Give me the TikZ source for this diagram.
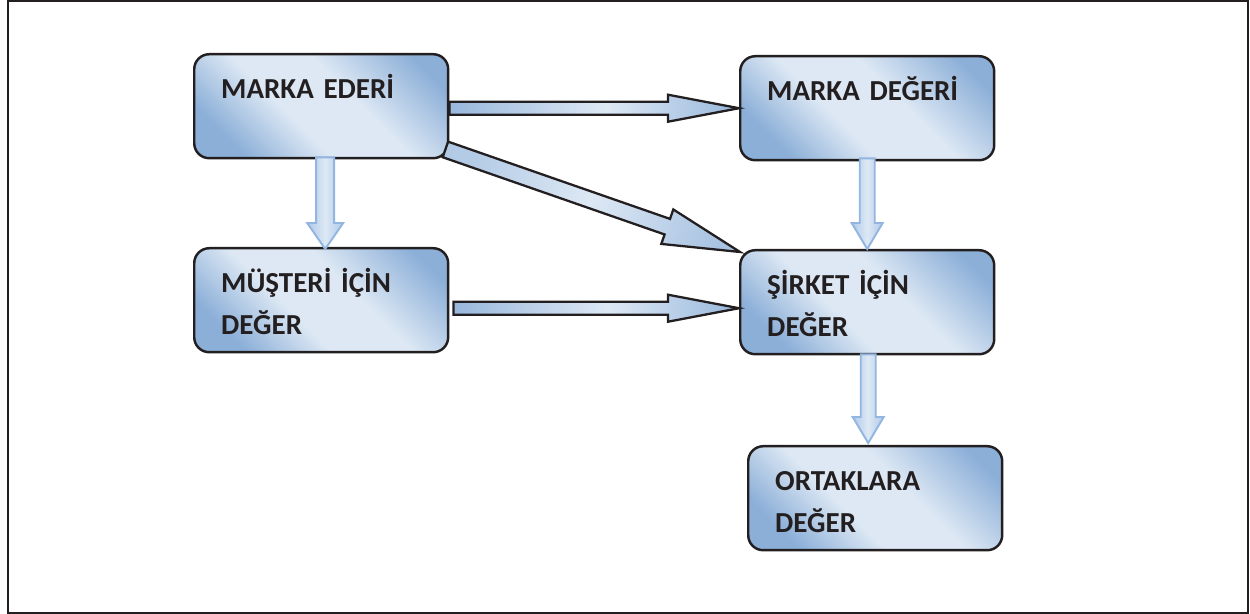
\documentclass[tikz,border=0pt]{standalone}
\usepackage{fontspec}
\setmainfont{Carlito}
\usepackage{tikz}
\usetikzlibrary{calc}
\usepackage{xcolor}
\definecolor{inkline}{RGB}{35,31,32}
\definecolor{boxdark}{RGB}{140,175,216}
\definecolor{boxlight}{RGB}{221,232,244}
\definecolor{downline}{RGB}{146,182,224}
\definecolor{downfill}{RGB}{176,201,233}
\pgfdeclarehorizontalshading{boxshade}{100bp}{color(0bp)=(boxdark); color(25bp)=(boxdark); color(42bp)=(boxlight); color(58bp)=(boxlight); color(78bp)=(boxdark); color(100bp)=(boxdark)}
\pgfdeclarehorizontalshading{flowshade}{100bp}{color(0bp)=(boxdark); color(25bp)=(boxdark!85!boxlight); color(52bp)=(boxlight); color(75bp)=(boxdark!85!boxlight); color(100bp)=(boxdark)}
\pgfdeclarehorizontalshading{slantshade}{100bp}{color(0bp)=(boxdark!60!boxlight); color(25bp)=(boxdark!50!boxlight); color(50bp)=(boxlight); color(75bp)=(boxdark!60!boxlight); color(100bp)=(boxdark)}
\pgfdeclarehorizontalshading{downshade}{100bp}{color(0bp)=(downfill); color(25bp)=(downfill); color(50bp)=(boxlight); color(75bp)=(downfill); color(100bp)=(downfill)}
\tikzset{
    kutu/.style={draw=inkline, line width=1.4pt, rounded corners=0.3cm, shading=boxshade, shading angle=45,
        anchor=north west, text width=4cm, inner xsep=0.54cm, inner ysep=0pt, text height=0.88cm, text depth=1.2cm,
        align=left, text=inkline, font=\fontsize{16.5}{23.8}\selectfont\bfseries},
    akis/.style={draw=inkline, line width=1.3pt, shading=flowshade},
    inis/.style={draw=downline, line width=1.1pt, shading=downshade}
}
\newcommand{\blockarrow}[6][]{%
    \coordinate (ba) at #2;
    \coordinate (ea) at #3;
    \coordinate (hb) at ($(ea)!#6!(ba)$);
    \draw[#1] ($(ba)!#4!90:(ea)$) -- ($(hb)!#4!90:(ea)$) -- ($(hb)!#5!90:(ea)$) -- (ea)
        -- ($(hb)!#5!-90:(ea)$) -- ($(hb)!#4!-90:(ea)$) -- ($(ba)!#4!-90:(ea)$) -- cycle;
}

\begin{document}
\begin{tikzpicture}[x=0.02cm, y=-0.02cm]
    \useasboundingbox (0,0) rectangle (1250,614);
    \draw[inkline, line width=1.5pt] (8,1) rectangle (1248,613);

    \node[kutu] (ederi) at (193,53) {MARKA EDERİ};
    \node[kutu] (degeri) at (739,55) {MARKA DEĞERİ};
    \node[kutu] (musteri) at (193,247) {MÜŞTERİ İÇİN\\DEĞER};
    \node[kutu] (sirket) at (739,249) {ŞİRKET İÇİN\\DEĞER};
    \node[kutu] (ortak) at (747,445) {ORTAKLARA\\DEĞER};

    \blockarrow[akis]{(ederi.east |- degeri.west)}{(degeri.west)}{0.13cm}{0.27cm}{1.42cm}
    \blockarrow[akis, shading=slantshade, shading angle=-20]{($(ederi.south east)+(-4,-10)$)}{($(sirket.north west)+(1,3)$)}{0.165cm}{0.365cm}{1.54cm}
    \blockarrow[akis]{($(musteri.east)+(4,8)$)}{($(sirket.west)+(0,6)$)}{0.13cm}{0.27cm}{1.42cm}

    \blockarrow[inis]{($(ederi.south)+(4,-2)$)}{($(musteri.north)+(4,2)$)}{0.18cm}{0.36cm}{0.52cm}
    \blockarrow[inis]{($(degeri.south)+(0,-3)$)}{(sirket.north)}{0.15cm}{0.31cm}{0.52cm}
    \blockarrow[inis]{($(sirket.south)+(1,-1)$)}{($(sirket.south |- ortak.north)+(1,-2)$)}{0.15cm}{0.31cm}{0.52cm}
\end{tikzpicture}
\end{document}
